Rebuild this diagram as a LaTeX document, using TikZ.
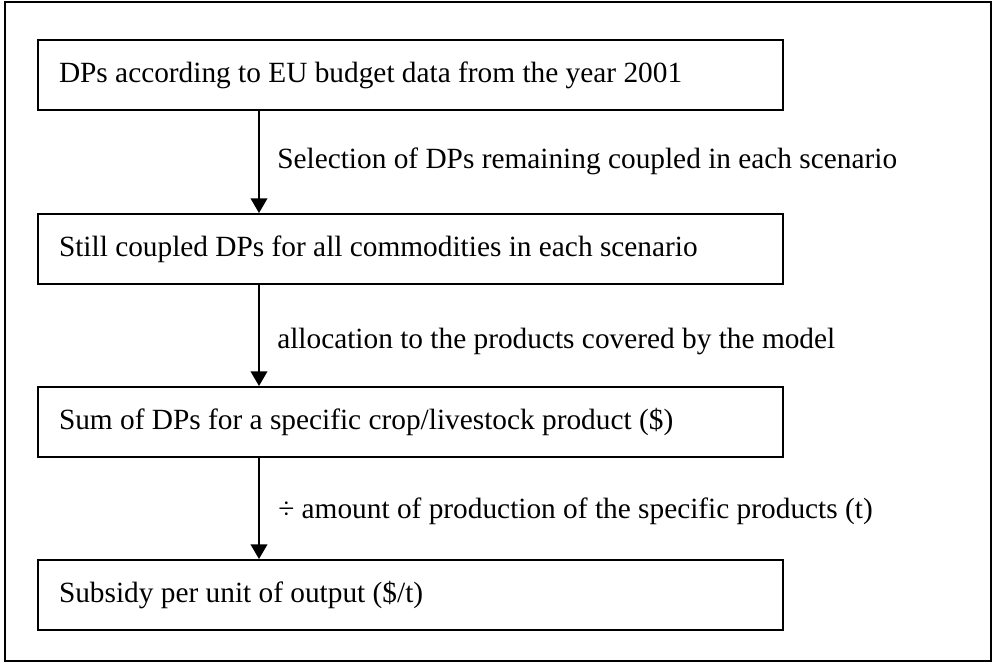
\documentclass[tikz,border=0pt]{standalone}
\usepackage{fontspec}
\setmainfont{Liberation Serif}
\usetikzlibrary{arrows.meta}
\begin{document}
\begin{tikzpicture}[x=0.75pt, y=-0.75pt,
  every node/.style={font=\fontsize{22}{26}\selectfont},
  stepbox/.style={draw, line width=1.5pt, anchor=north west,
    text width=527.25pt, inner xsep=15.75pt, inner ysep=0pt,
    minimum height=52.5pt, align=flush left},
  flow/.style={line width=1.2pt, -{Triangle[length=11pt, width=12.5pt]}},
  note/.style={anchor=base west, inner sep=0pt}]
  \useasboundingbox (0,0) rectangle (996,664);
  % outer frame
  \draw[line width=1.5pt] (5,2) rectangle (991,661);
  % process steps
  \node[stepbox] (s1) at (37,39)  {DPs according to EU budget data from the year 2001};
  \node[stepbox] (s2) at (37,213) {Still coupled DPs for all commodities in each scenario};
  \node[stepbox] (s3) at (37,386) {Sum of DPs for a specific crop/livestock product (\$)};
  \node[stepbox] (s4) at (37,559) {Subsidy per unit of output (\$/t)};
  % arrow column
  \coordinate (col) at (259,0);
  \draw[flow] (s1.south -| col) -- (s2.north -| col);
  \draw[flow] (s2.south -| col) -- (s3.north -| col);
  \draw[flow] (s3.south -| col) -- (s4.north -| col);
  % step descriptions
  \node[note] (n1) at (277,168) {Selection of DPs remaining coupled in each scenario};
  \node[note] (n2) at (277,348) {allocation to the products covered by the model};
  \node[note] (n3) at (278,518) {÷ amount of production of the specific products (t)};
\end{tikzpicture}
\end{document}
